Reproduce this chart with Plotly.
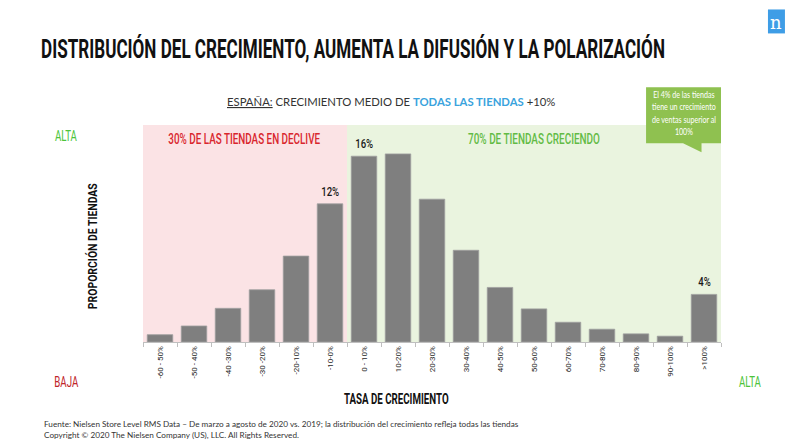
import json
import plotly.graph_objects as go

categories = ["-60 - 50%", "-50 - 40%", "-40 -30%", "-30 -20%", "-20-10%", "-10-0%",
              "0 - 10%", "10-20%", "20-30%", "30-40%", "40-50%", "50-60%",
              "60-70%", "70-80%", "80-90%", "90-100%", ">100%"]
share_pct = [0.63, 1.38, 2.9, 4.5, 7.4, 11.9, 16.0, 16.2, 12.3, 7.9, 4.7, 2.85,
             1.7, 1.1, 0.7, 0.5, 4.1]
bar_labels = ["", "", "", "", "", "12%", "16%", "", "", "", "", "", "", "", "", "", "4%"]

COND = "Roboto, sans-serif"
SANS = "Lato, Open Sans, sans-serif"

# plot area in pixels
L, R, T, B = 142.5, 721.0, 124.7, 342.0
W, H = R - L, B - T


def px(x):
    return (x - L) / W


def py(y):
    return (B - y) / H


fig = go.Figure()
fig.add_trace(go.Bar(
    x=categories, y=share_pct,
    marker=dict(color="#7f7f7f", line=dict(color="#a0a0a0", width=0.8)),
    hoverinfo="skip",
))

shapes = [
    dict(type="rect", xref="x", yref="paper", x0=-0.5, x1=5.5, y0=0, y1=1,
         fillcolor="#fbe3e5", line=dict(width=0), layer="below"),
    dict(type="rect", xref="x", yref="paper", x0=5.5, x1=16.5, y0=0, y1=1,
         fillcolor="#eaf4df", line=dict(width=0), layer="below"),
    # callout box
    dict(type="path", xref="paper", yref="paper",
         path=(f"M {px(646)} {py(87)} L {px(721)} {py(87)} L {px(721)} {py(143)} "
               f"L {px(701.5)} {py(143)} L {px(701.5)} {py(152)} L {px(683)} {py(143)} "
               f"L {px(646)} {py(143)} Z"),
         fillcolor="#8fc150", line=dict(width=0), layer="above"),
    # logo
    dict(type="rect", xref="paper", yref="paper", x0=px(768), x1=px(785),
         y0=py(33), y1=py(9), fillcolor="#3e9de6", line=dict(width=0)),
]

annotations = []
fits = {}  # annotation index -> [target width px, transform origin]

for cat, val, lab in zip(categories, share_pct, bar_labels):
    if lab:
        fits[len(annotations)] = [18 if len(lab) > 2 else 12.5, "center"]
        annotations.append(dict(x=cat, y=val, xref="x", yref="y", text=lab,
                                showarrow=False, yanchor="bottom", yshift=3,
                                font=dict(family=COND, size=13, color="#1a1a1a", weight=500)))


def txt(x, y, text, size, color, family=COND, xanchor="center", yanchor="middle",
        angle=0, align="center", fit=None, weight=None):
    if fit:
        fits[len(annotations)] = fit
    f = dict(family=family, size=size, color=color)
    if weight:
        f["weight"] = weight
    annotations.append(dict(x=px(x), y=py(y), xref="paper", yref="paper", text=text,
                            showarrow=False, xanchor=xanchor, yanchor=yanchor,
                            textangle=angle, align=align, font=f))


txt(38, 49, "DISTRIBUCIÓN DEL CRECIMIENTO, AUMENTA LA DIFUSIÓN Y LA POLARIZACIÓN",
    25, "#111111", xanchor="left", fit=[624, "left center"], weight=700)
txt(391, 101, "<u>ESPAÑA:</u> CRECIMIENTO MEDIO DE <span style='color:#3aa3dd'><b>TODAS LAS TIENDAS</b></span> +10%",
    11.3, "#333333", family=SANS)
txt(244, 138.5, "30% DE LAS TIENDAS EN DECLIVE", 15.5, "#d9262d", fit=[152, "center"], weight=500)
txt(534, 138.5, "70% DE TIENDAS CRECIENDO", 15.5, "#62bb45", fit=[132, "center"], weight=500)
txt(683.5, 113, "El 4% de las tiendas<br>tiene un crecimiento<br>de ventas superior al<br>100%",
    9.5, "#ffffff", family=SANS, fit=[64, "center"])
txt(65, 135.5, "ALTA", 14, "#4cc43a", fit=[22, "center"])
txt(66, 382.5, "BAJA", 14, "#c0242a", fit=[24, "center"])
txt(750, 382.5, "ALTA", 14, "#4cc43a", fit=[22, "center"])
txt(92, 246, "PROPORCIÓN DE TIENDAS", 12, "#111111", angle=-90, fit=[126, "center"], weight=700)
txt(396, 399, "TASA DE CRECIMIENTO", 14, "#111111", fit=[105, "center"], weight=700)
txt(41, 430, "Fuente: Nielsen Store Level RMS Data – De marzo a agosto de 2020 vs. 2019; la distribución del crecimiento refleja todas las tiendas<br>Copyright © 2020 The Nielsen Company (US), LLC. All Rights Reserved.",
    8.2, "#333333", family=SANS, xanchor="left", align="left")
txt(776.5, 22, "n", 18, "#ffffff", family="DejaVu Serif")

fig.update_layout(
    width=800, height=447,
    margin=dict(l=L, r=800 - R, t=T, b=447 - B, pad=0),
    paper_bgcolor="white", plot_bgcolor="rgba(0,0,0,0)",
    showlegend=False, bargap=0.25,
    shapes=shapes, annotations=annotations,
    xaxis=dict(type="category", range=[-0.5, 16.5], showline=True, linecolor="#bfbfbf",
               linewidth=1, ticks="outside", tickson="boundaries", ticklen=4,
               tickcolor="#bfbfbf", tickangle=-90,
               tickfont=dict(family=COND, size=8, color="#262626"),
               showgrid=False, zeroline=False, fixedrange=True),
    yaxis=dict(range=[0, 18.69], visible=False, showgrid=False, zeroline=False, fixedrange=True),
)

post_script = """
document.body.style.margin = '0';
var gd = document.getElementById('{plot_id}');
var fits = FITS;
gd.querySelectorAll('g.annotation').forEach(function(g){
  var f = fits[g.getAttribute('data-index')];
  if (!f) return;
  var t = g.querySelector('text.annotation-text');
  if (!t) return;
  var w = t.getBBox().width;
  if (!w) return;
  t.style.transformBox = 'fill-box';
  t.style.transformOrigin = f[1];
  t.style.transform = 'scaleX(' + (f[0] / w) + ')';
});
""".replace("FITS", json.dumps({str(k): v for k, v in fits.items()}))

fig.write_html("out.html", post_script=post_script, config={"displayModeBar": False})
